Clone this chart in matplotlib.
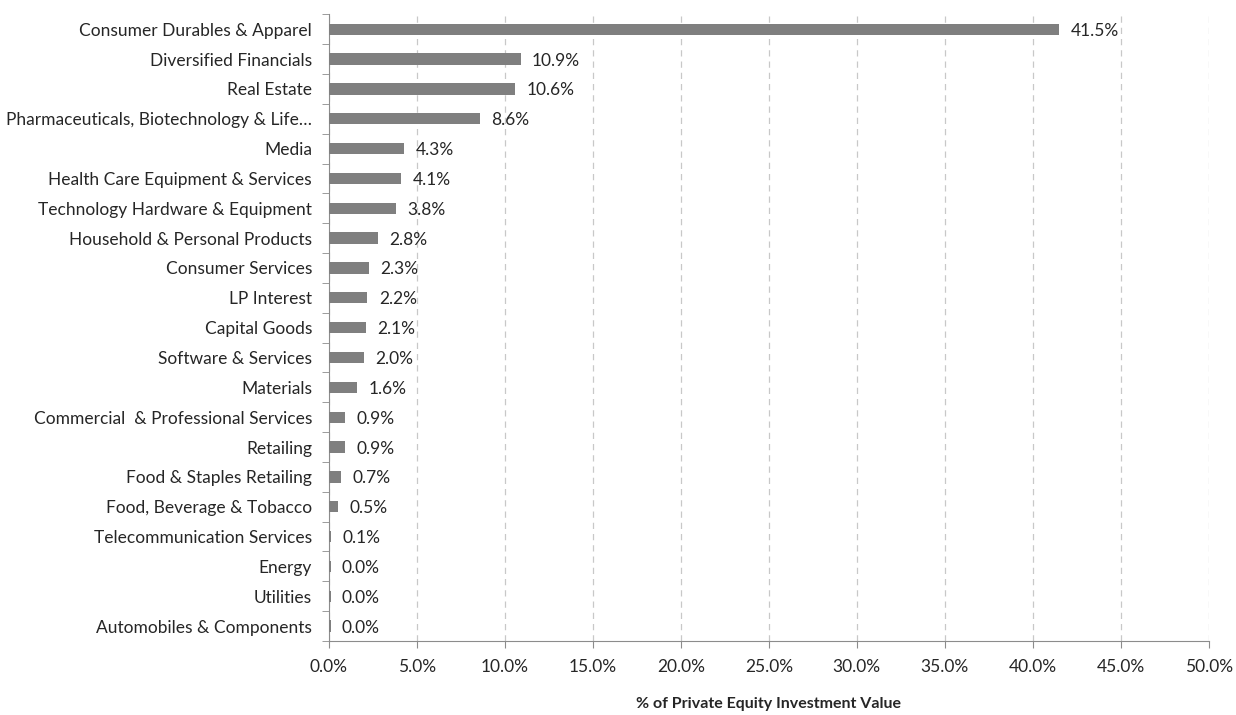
import matplotlib.pyplot as plt
from matplotlib.ticker import FixedLocator, FuncFormatter

categories = [
    "Consumer Durables & Apparel",
    "Diversified Financials",
    "Real Estate",
    "Pharmaceuticals, Biotechnology & Life\u2026",
    "Media",
    "Health Care Equipment & Services",
    "Technology Hardware & Equipment",
    "Household & Personal Products",
    "Consumer Services",
    "LP Interest",
    "Capital Goods",
    "Software & Services",
    "Materials",
    "Commercial  & Professional Services",
    "Retailing",
    "Food & Staples Retailing",
    "Food, Beverage & Tobacco",
    "Telecommunication Services",
    "Energy",
    "Utilities",
    "Automobiles & Components",
]
values = [41.5, 10.9, 10.6, 8.6, 4.3, 4.1, 3.8, 2.8, 2.3, 2.2, 2.1, 2.0, 1.6,
          0.9, 0.9, 0.7, 0.5, 0.15, 0.1, 0.1, 0.1]
labels = ["41.5%", "10.9%", "10.6%", "8.6%", "4.3%", "4.1%", "3.8%", "2.8%",
          "2.3%", "2.2%", "2.1%", "2.0%", "1.6%", "0.9%", "0.9%", "0.7%",
          "0.5%", "0.1%", "0.0%", "0.0%", "0.0%"]
xticks = [0, 5, 10, 15, 20, 25, 30, 35, 40, 45, 50]

plt.rcParams['font.family'] = ['Lato', 'DejaVu Sans']
text_color = '#262626'

fig = plt.figure(figsize=(12.36, 7.15), dpi=100)
ax = fig.add_axes([0.266, 0.1035, 0.712, 0.8765])

n = len(categories)
ypos = list(range(n))
ax.barh(ypos, values, height=0.38, color='#7f7f7f', zorder=3)

for y, v, lab in zip(ypos, values, labels):
    ax.text(v + 0.65, y + 0.05, lab, va='center', ha='left', fontsize=12.5, color=text_color)

ax.set_xlim(0, 50)
ax.set_ylim(n - 0.5, -0.5)
ax.set_xticks(xticks)
ax.xaxis.set_major_formatter(FuncFormatter(lambda x, p: f"{x:.1f}%"))
ax.set_yticks(ypos)
ax.set_yticklabels(categories)
ax.yaxis.set_minor_locator(FixedLocator([i - 0.5 for i in range(n + 1)]))

ax.tick_params(axis='y', which='major', length=0, pad=12, labelsize=12.5, labelcolor=text_color)
ax.tick_params(axis='y', which='minor', length=5, color='#8c8c8c', direction='out')
ax.tick_params(axis='x', which='major', length=5, color='#8c8c8c', direction='out',
               pad=8, labelsize=12.5, labelcolor=text_color)

ax.grid(axis='x', linestyle=(0, (5, 4)), color='#c8c8c8', linewidth=0.9, zorder=0)

for side in ['top', 'right']:
    ax.spines[side].set_visible(False)
for side in ['left', 'bottom']:
    ax.spines[side].set_color('#8c8c8c')

ax.set_xlabel("% of Private Equity Investment Value", fontsize=11.5, fontweight='bold',
              color=text_color, labelpad=16)

fig.savefig("out.png", dpi=100)
